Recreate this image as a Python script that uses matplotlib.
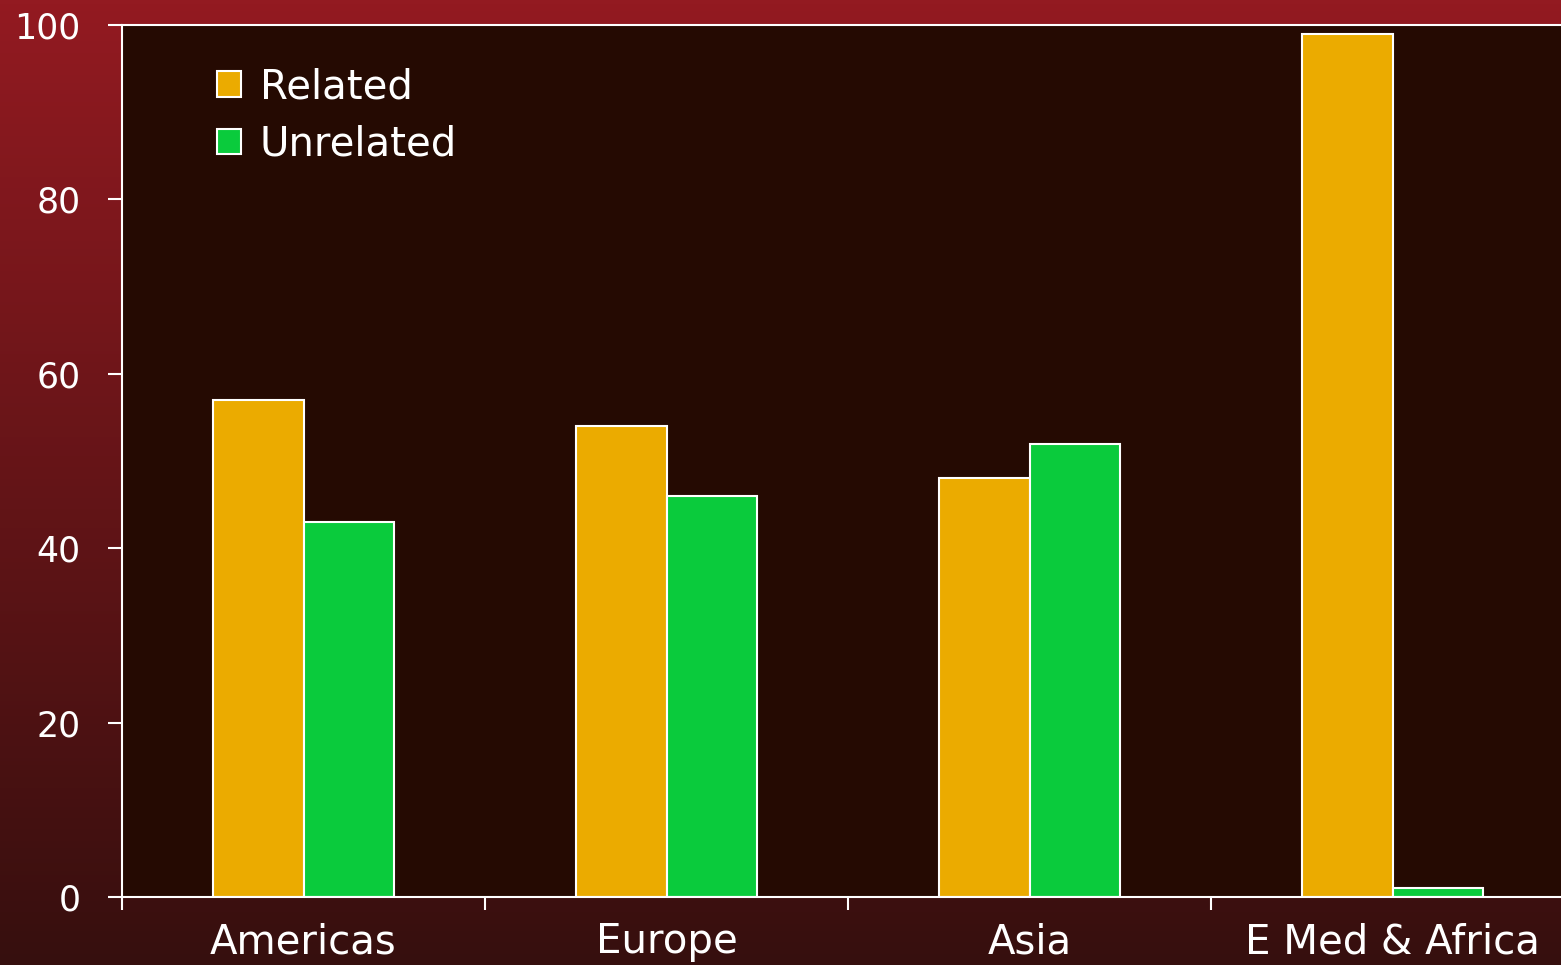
import numpy as np
import matplotlib
matplotlib.use("Agg")
import matplotlib.pyplot as plt

regions = ["Americas", "Europe", "Asia", "E Med & Africa"]
related = [57, 54, 48, 99]
unrelated = [43, 46, 52, 1]

W, H = 1561, 965
fig = plt.figure(figsize=(W / 100, H / 100), dpi=100)

# background gradient, red at top to dark at bottom
bg = fig.add_axes([0, 0, 1, 1], zorder=0)
top = np.array([0x93, 0x1a, 0x21]) / 255
bot = np.array([0x36, 0x0f, 0x0e]) / 255
t = np.linspace(0, 1, 256)[:, None]
grad = top * (1 - t) + bot * t
bg.imshow(grad[:, None, :], aspect="auto", extent=[0, 1, 0, 1])
bg.axis("off")

left, bottom_px, top_px = 122, 897, 25
ax = fig.add_axes([left / W, 1 - bottom_px / H, 1 - left / W, (bottom_px - top_px) / H], zorder=1)
ax.set_facecolor("#250a02")

x = np.arange(len(regions))
w = 0.248
ax.bar(x - w / 2, related, w, color="#ebab00", edgecolor="white", linewidth=1.5, label="Related")
ax.bar(x + w / 2, unrelated, w, color="#0acb3c", edgecolor="white", linewidth=1.5, label="Unrelated")

cat_px = 363.0
ax.set_xlim(-0.5, -0.5 + (W - left) / cat_px)
ax.set_ylim(0, 100)
ax.set_yticks([0, 20, 40, 60, 80, 100])
ax.set_xticks(x)
ax.set_xticklabels(regions)
ax.set_xticks(np.arange(len(regions)) - 0.5, minor=True)

for s in ax.spines.values():
    s.set_color("white")
    s.set_linewidth(1.5)
ax.spines["right"].set_visible(False)

ax.tick_params(axis="y", colors="white", labelsize=25, length=10, width=1.5, pad=20)
ax.tick_params(axis="x", which="major", colors="white", labelsize=29, length=0, pad=18)
ax.tick_params(axis="x", which="minor", colors="white", length=9, width=1.5)

leg = ax.legend(loc="upper left", bbox_to_anchor=(0.041, 0.993), frameon=False,
                fontsize=29, labelcolor="white", handlelength=0.6, handleheight=0.6,
                handletextpad=0.45, labelspacing=0.43)

fig.savefig("out.png", dpi=100)
